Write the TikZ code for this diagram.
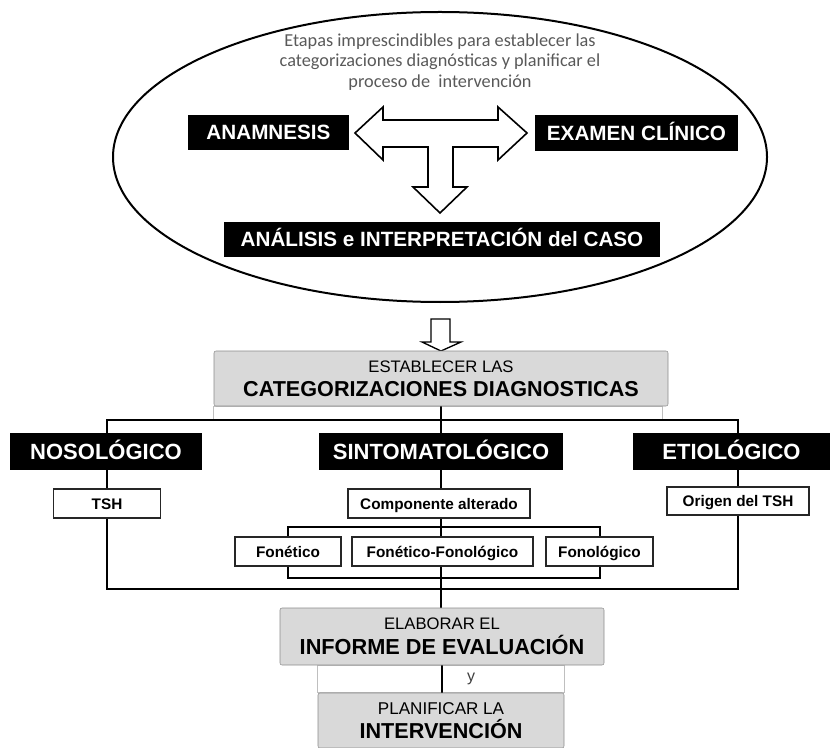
\documentclass[tikz,border=0pt]{standalone}
\usepackage{fontspec}
\setmainfont{Liberation Sans}
\newfontfamily\carlito{Carlito}
\usetikzlibrary{backgrounds}

\begin{document}
\begin{tikzpicture}[x=.75pt,y=-.75pt,
  blk/.style={fill=black,text=white,inner sep=0pt,text height=11.1pt,text depth=0pt,
    font=\bfseries\fontsize{15.5}{18}\selectfont},
  cat/.style={blk,text height=11.8pt,font=\bfseries\fontsize{16.5}{19}\selectfont},
  gry/.style={fill=black!15,draw=black!45,rounded corners=1.5pt,inner sep=0pt,align=center},
  wht/.style={fill=white,draw=black!85,line width=1pt,inner sep=0pt,text height=8.3pt,text depth=0pt,
    font=\bfseries\fontsize{11.5}{13}\selectfont},
  strip/.style={fill=white,draw=black!25,line width=.6pt},
  conn/.style={line width=1.5pt},
  hollow/.style={fill=white,draw=black,line width=1.2pt}]
  \useasboundingbox (0,0) rectangle (830,748);

  \draw[line width=1.5pt] (440,157) ellipse [x radius=245.25pt, y radius=108.75pt];
  \node[align=center,text=black!65,font=\carlito\fontsize{13.7}{15.4}\selectfont] (txt) at (440,62)
    {Etapas imprescindibles para establecer las\\categorizaciones diagnósticas y planificar el\\proceso de~ intervención};

  \node[blk,minimum width=120.75pt,minimum height=26.25pt] (an) at (268.5,132.5) {ANAMNESIS};
  \node[blk,minimum width=152.25pt,minimum height=27pt] (ex) at (636.5,133) {EXAMEN CLÍNICO};
  \node[blk,minimum width=327pt,minimum height=26.25pt] (ai) at (442,239.5) {ANÁLISIS e INTERPRETACIÓN del CASO};

  \draw[hollow] (355,133) -- ++(28,-26) -- ++(0,13) -- ++(115,0) -- ++(0,-13) -- ++(29,26)
    -- ++(-29,27) -- ++(0,-13) -- ++(-45,0) -- ++(0,40) -- ++(14,0) -- ++(-27,26)
    -- ++(-27,-26) -- ++(15,0) -- ++(0,-40) -- ++(-45,0) -- ++(0,13) -- cycle;
  \draw[hollow,line width=1pt] (431,319) -- ++(19,0) -- ++(0,23) -- ++(11,0) -- ++(-20,9)
    -- ++(-19,-9) -- ++(9,0) -- cycle;

  \node[gry,minimum width=340.5pt,minimum height=41.25pt,font=\bfseries\fontsize{16.2}{18.2}\selectfont] (est) at (441,378.5)
    {{\mdseries\fontsize{12.5}{14}\selectfont ESTABLECER LAS}\\CATEGORIZACIONES DIAGNOSTICAS};

  \node[cat,minimum width=144pt,minimum height=27.75pt] (nos) at (106,451.5) {NOSOLÓGICO};
  \node[cat,minimum width=183pt,minimum height=27.75pt] (sin) at (441,451.5) {SINTOMATOLÓGICO};
  \node[cat,minimum width=147.75pt,minimum height=27.75pt] (eti) at (731.5,451.5) {ETIOLÓGICO};

  \node[wht,minimum width=80.25pt,minimum height=21.75pt] (tsh) at (107,503.5) {TSH};
  \node[wht,minimum width=136.5pt,minimum height=21.75pt] (comp) at (439,503.5) {Componente alterado};
  \node[wht,minimum width=106.5pt,minimum height=21pt] (ori) at (738,501) {Origen del TSH};

  \node[wht,minimum width=79.5pt,minimum height=21.75pt] (f1) at (288,551.5) {Fonético};
  \node[wht,minimum width=135.75pt,minimum height=21.75pt] (f2) at (442.5,551.5) {Fonético-Fonológico};
  \node[wht,minimum width=80.25pt,minimum height=21.75pt] (f3) at (599.5,551.5) {Fonológico};

  \node[gry,minimum width=243pt,minimum height=42.75pt,font=\bfseries\fontsize{16.3}{18.75}\selectfont] (ela) at (442,636.5)
    {{\mdseries\fontsize{12.5}{14}\selectfont ELABORAR EL}\\INFORME DE EVALUACIÓN};
  \node[gry,minimum width=184.5pt,minimum height=41.25pt,font=\bfseries\fontsize{16.2}{18}\selectfont] (pla) at (441,720.5)
    {{\mdseries\fontsize{12.8}{14}\selectfont PLANIFICAR LA}\\INTERVENCIÓN};
  \node[text=black!75,font=\fontsize{12}{14}\selectfont] (y) at (471,679) {y};

  \begin{scope}[on background layer]
    \draw[strip] (est.south west) rectangle ++(449,13);
    \draw[strip] (pla.north west) rectangle (pla.north east |- ela.south);
    \coordinate (bt) at (441,420);
    \coordinate (bb) at (441,589);
    \coordinate (ft) at (441,527);
    \coordinate (fb) at (441,578);
    \draw[conn] (tsh.center |- bt) rectangle (ori.center |- bb);
    \draw[conn] (f1.center |- ft) rectangle (f3.center |- fb);
    \draw[conn] (est.south) -- (est.south |- ela.north);
    \draw[conn] (ela.south) -- (ela.south |- pla.north);
  \end{scope}
\end{tikzpicture}
\end{document}
